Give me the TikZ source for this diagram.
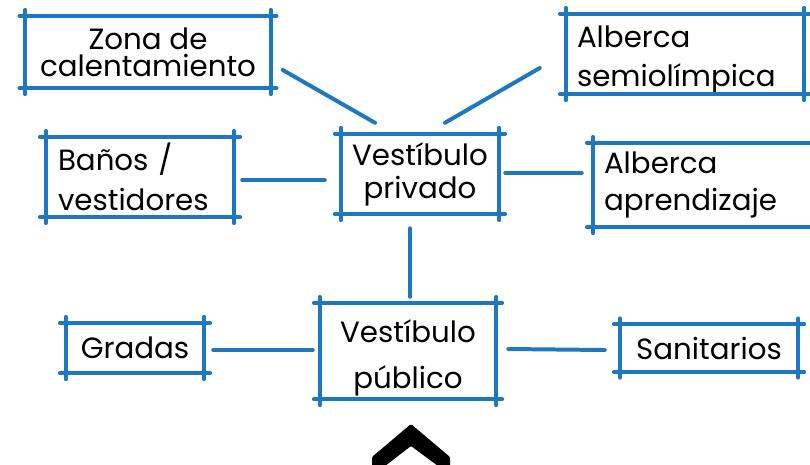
\documentclass[tikz,border=0pt]{standalone}
\usepackage{fontspec}
\setmainfont{Poppins}
\usetikzlibrary{calc}
\definecolor{marker}{RGB}{30,120,192}
\tikzset{
  x=0.03cm, y=-0.03cm,
  room/.style={draw=none, inner sep=0pt, text=black},
  lefttext/.style={align=left, inner xsep=#1*0.03cm},
  link/.style={draw=marker, line width=3.4pt, line cap=round},
  edge/.style={draw=marker, line width=3.4pt, line cap=round},
}
\newcommand\fs[1]{\fontsize{25}{#1}\selectfont}
\newcommand\crossbox[1]{%
  \draw[edge] ([xshift=-5pt]#1.north west) -- ([xshift=5pt]#1.north east);
  \draw[edge] ([xshift=-5pt]#1.south west) -- ([xshift=5pt]#1.south east);
  \draw[edge] ([yshift=5pt]#1.north west) -- ([yshift=-5pt]#1.south west);
  \draw[edge] ([yshift=5pt]#1.north east) -- ([yshift=-5pt]#1.south east);
}
\begin{document}
\begin{tikzpicture}
\useasboundingbox (0,0) rectangle (810,464);
\node[room, minimum width=245*0.03cm, minimum height=72*0.03cm, align=center, font=\fs{23}] (zona) at (148,52) {Zona de\\calentamiento};
\node[room, minimum width=238*0.03cm, minimum height=80*0.03cm,
  label={[room, lefttext=11, text width=216*0.03cm, font=\fs{33}, yshift=-0.18cm]center:{Alberca\\semiolímpica}}] (semi) at (685,54) {};
\node[room, lefttext=12, text width=164*0.03cm, minimum height=80*0.03cm, font=\fs{34}] (banos) at (140,177) {Baños /\\vestidores};
\node[room, minimum width=158*0.03cm, minimum height=80*0.03cm, align=center, font=\fs{28}] (priv) at (420,174) {Vestíbulo\\privado};
\node[room, lefttext=11, text width=200*0.03cm, minimum height=84*0.03cm, font=\fs{31}] (aprend) at (704,185) {Alberca\\aprendizaje};
\node[room, minimum width=138*0.03cm, minimum height=50*0.03cm, font=\fs{30}] (gradas) at (135,348) {Gradas};
\node[room, minimum width=176*0.03cm, minimum height=96*0.03cm,
  label={[room, align=center, font=\fs{39}, yshift=-0.21cm]center:{Vestíbulo\\público}}] (pub) at (408,351) {};
\node[room, minimum width=178*0.03cm, minimum height=47*0.03cm, font=\fs{30}] (sanit) at (709,348) {Sanitarios};
\foreach \b in {zona,semi,banos,priv,aprend,gradas,pub,sanit}{\crossbox{\b}}
% connectors
\draw[link] ($(zona.east)+(12,18)$) -- ($(priv.north)+(-45,-11)$);
\draw[link] ($(semi.west)+(-26,14)$) -- ($(priv.north)+(25,-11)$);
\draw[link] ($(banos.east)+(8,3)$) -- ($(priv.west)+(-16,6)$);
\draw[link] ($(priv.east)+(6,-1)$) -- ($(aprend.west)+(-11,-12)$);
\draw[link] ($(priv.south)+(-10,14)$) -- ($(pub.north)+(2,-6)$);
\draw[link] ($(gradas.east)+(9,2)$) -- ($(pub.west)+(-7,-1)$);
\draw[link] ($(pub.east)+(12,-2)$) -- ($(sanit.west)+(-15,2)$);
% chevron
\fill[black, rounded corners=1pt] (411,424) -- (450,457) -- (450,466) -- (438,466) -- (411,446) -- (385,466) -- (372,466) -- (372,457) -- cycle;
\end{tikzpicture}
\end{document}
